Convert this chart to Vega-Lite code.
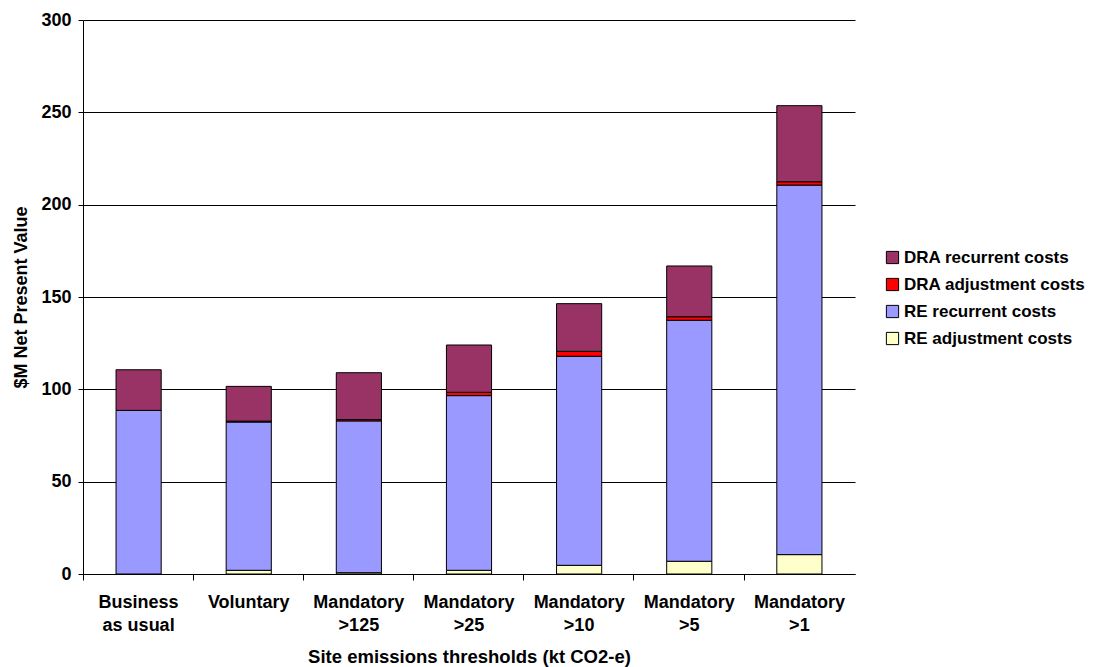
{
  "$schema": "https://vega.github.io/schema/vega-lite/v6.json",
  "width": 772,
  "height": 554,
  "autosize": "none",
  "padding": {"left": 83, "top": 20, "right": 252, "bottom": 93},
  "background": "white",
  "config": {
    "view": {"stroke": null},
    "font": "Liberation Sans",
    "axis": {"labelFont": "Liberation Sans", "titleFont": "Liberation Sans"}
  },
  "data": {
    "values": [
      {"category": "Business|as usual", "series": "RE adjustment costs", "value": 0, "ord": 1},
      {"category": "Business|as usual", "series": "RE recurrent costs", "value": 88.6, "ord": 2},
      {"category": "Business|as usual", "series": "DRA adjustment costs", "value": 0, "ord": 3},
      {"category": "Business|as usual", "series": "DRA recurrent costs", "value": 22.0, "ord": 4},
      {"category": "Voluntary", "series": "RE adjustment costs", "value": 2.0, "ord": 1},
      {"category": "Voluntary", "series": "RE recurrent costs", "value": 80.3, "ord": 2},
      {"category": "Voluntary", "series": "DRA adjustment costs", "value": 0.5, "ord": 3},
      {"category": "Voluntary", "series": "DRA recurrent costs", "value": 18.8, "ord": 4},
      {"category": "Mandatory|>125", "series": "RE adjustment costs", "value": 0.7, "ord": 1},
      {"category": "Mandatory|>125", "series": "RE recurrent costs", "value": 82.2, "ord": 2},
      {"category": "Mandatory|>125", "series": "DRA adjustment costs", "value": 0.7, "ord": 3},
      {"category": "Mandatory|>125", "series": "DRA recurrent costs", "value": 25.4, "ord": 4},
      {"category": "Mandatory|>25", "series": "RE adjustment costs", "value": 2.0, "ord": 1},
      {"category": "Mandatory|>25", "series": "RE recurrent costs", "value": 94.6, "ord": 2},
      {"category": "Mandatory|>25", "series": "DRA adjustment costs", "value": 1.8, "ord": 3},
      {"category": "Mandatory|>25", "series": "DRA recurrent costs", "value": 25.6, "ord": 4},
      {"category": "Mandatory|>10", "series": "RE adjustment costs", "value": 4.7, "ord": 1},
      {"category": "Mandatory|>10", "series": "RE recurrent costs", "value": 113.2, "ord": 2},
      {"category": "Mandatory|>10", "series": "DRA adjustment costs", "value": 2.7, "ord": 3},
      {"category": "Mandatory|>10", "series": "DRA recurrent costs", "value": 25.8, "ord": 4},
      {"category": "Mandatory|>5", "series": "RE adjustment costs", "value": 6.9, "ord": 1},
      {"category": "Mandatory|>5", "series": "RE recurrent costs", "value": 130.5, "ord": 2},
      {"category": "Mandatory|>5", "series": "DRA adjustment costs", "value": 1.9, "ord": 3},
      {"category": "Mandatory|>5", "series": "DRA recurrent costs", "value": 27.5, "ord": 4},
      {"category": "Mandatory|>1", "series": "RE adjustment costs", "value": 10.5, "ord": 1},
      {"category": "Mandatory|>1", "series": "RE recurrent costs", "value": 200.1, "ord": 2},
      {"category": "Mandatory|>1", "series": "DRA adjustment costs", "value": 1.8, "ord": 3},
      {"category": "Mandatory|>1", "series": "DRA recurrent costs", "value": 41.2, "ord": 4}
    ]
  },
  "layer": [
    {
      "mark": {"type": "bar", "stroke": "black", "strokeWidth": 1},
      "encoding": {
        "x": {
          "field": "category",
          "type": "nominal",
          "sort": null,
          "scale": {"paddingInner": 0.59, "paddingOuter": 0.3},
          "axis": {
            "orient": "bottom",
            "title": "Site emissions thresholds (kt CO2-e)",
            "titleFontSize": 18.5,
            "titleFontWeight": "bold",
            "titleColor": "black",
            "titlePadding": 13,
            "labelExpr": "split(datum.value, '|')",
            "labelFontSize": 18,
            "labelFontWeight": "bold",
            "labelColor": "black",
            "labelAngle": 0,
            "labelPadding": 19,
            "labelLineHeight": 23,
            "labelLimit": 200,
            "ticks": false,
            "domainColor": "black",
            "domainWidth": 1
          }
        },
        "y": {
          "field": "value",
          "type": "quantitative",
          "aggregate": "sum",
          "stack": "zero",
          "scale": {"domain": [0, 300], "nice": false},
          "axis": {
            "title": "$M Net Present Value",
            "titleFontSize": 18,
            "titleFontWeight": "bold",
            "titleColor": "black",
            "titlePadding": 10,
            "values": [0, 50, 100, 150, 200, 250, 300],
            "labelFontSize": 18,
            "labelFontWeight": "bold",
            "labelColor": "black",
            "labelPadding": 7,
            "tickColor": "black",
            "tickSize": 5,
            "domainColor": "black",
            "gridColor": "black",
            "gridOpacity": 1,
            "gridWidth": 1
          }
        },
        "color": {
          "field": "series",
          "type": "nominal",
          "scale": {
            "domain": ["DRA recurrent costs", "DRA adjustment costs", "RE recurrent costs", "RE adjustment costs"],
            "range": ["#993366", "#FF0000", "#9999FF", "#FFFFCC"]
          },
          "legend": {
            "title": null,
            "orient": "none",
            "legendX": 801,
            "legendY": 229,
            "symbolType": "square",
            "symbolSize": 150,
            "symbolStrokeColor": "black",
            "symbolStrokeWidth": 1,
            "symbolOpacity": 1,
            "labelFontSize": 17,
            "labelFontWeight": "bold",
            "labelColor": "black",
            "labelOffset": 3,
            "labelLimit": 300,
            "rowPadding": 9
          }
        },
        "order": {"field": "ord", "type": "quantitative", "sort": "ascending"}
      }
    },
    {
      "mark": {"type": "point", "opacity": 0},
      "encoding": {
        "x": {
          "field": "category",
          "type": "nominal",
          "sort": null,
          "axis": {
            "orient": "bottom",
            "title": null,
            "labels": false,
            "domain": false,
            "ticks": true,
            "tickColor": "black",
            "tickSize": 6,
            "bandPosition": -0.725
          }
        }
      }
    }
  ],
  "resolve": {"axis": {"x": "independent"}}
}
